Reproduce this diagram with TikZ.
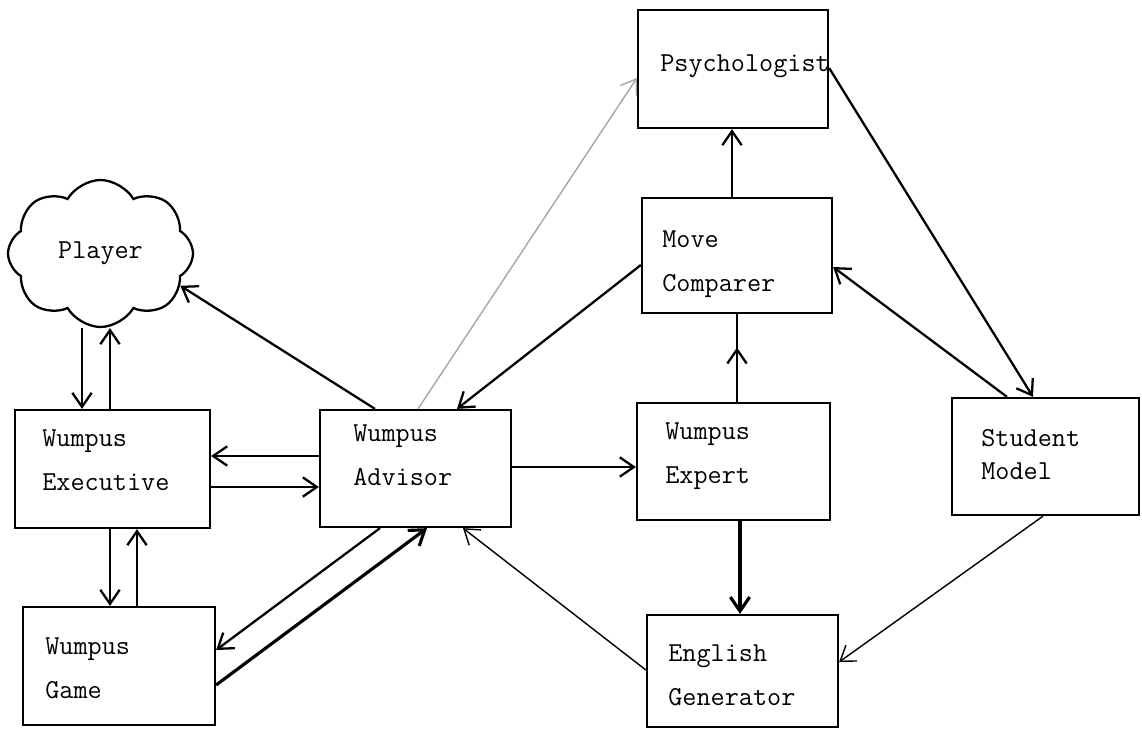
\documentclass[tikz,border=0pt]{standalone}
\usepackage{fontspec}
\usetikzlibrary{arrows.meta, shapes.symbols, decorations.markings}

\tikzset{
	modulo/.style={draw, rectangle, line width=1.3pt, inner sep=0pt},
	testo/.style={anchor=north west, inner sep=0pt, align=left, font=\fontsize{15.6}{25}\selectfont\ttfamily},
	freccia/.style={line width=1.3pt, ->},
	sottile/.style={line width=0.8pt, ->},
	freccia a meta/.style={line width=1.3pt, postaction={decorate},
		decoration={markings, mark=at position 0.62 with {\arrow{>}}}}
}

\begin{document}
\begin{tikzpicture}[x=0.02cm, y=-0.02cm, >={Straight Barb[length=8pt, width=11pt]}]
	\useasboundingbox (0,0) rectangle (1142,730);
	%%%	Moduli
	% Giocatore
	\node[draw, cloud, cloud puffs=8, cloud puff arc=120, line width=1.3pt, minimum width=3.7cm, minimum height=2.94cm, inner sep=0pt, font=\fontsize{15.6}{25}\selectfont\ttfamily] (player) at (100.5,253.5) {Player};
	
	% Colonna sinistra
	\node[modulo, minimum width=3.9cm, minimum height=2.36cm] (exe) at (112.5,469) {};
	\node[testo] (exet) at (42,429) {Wumpus\\Executive};
	\node[modulo, minimum width=3.84cm, minimum height=2.36cm] (game) at (119,666) {};
	\node[testo] (gamet) at (45,637) {Wumpus\\Game};
	
	% Consigliere
	\node[modulo, minimum width=3.82cm, minimum height=2.34cm] (adv) at (415.5,468.5) {};
	\node[testo] (advt) at (353,424) {Wumpus\\Advisor};
	
	% Colonna centrale
	\node[modulo, minimum width=3.8cm, minimum height=2.36cm] (psy) at (733,69) {};
	\node[testo] (psyt) at (660,54) {Psychologist};
	\node[modulo, minimum width=3.8cm, minimum height=2.3cm] (cmp) at (737,255.5) {};
	\node[testo] (cmpt) at (662,230) {Move\\Comparer};
	\node[modulo, minimum width=3.86cm, minimum height=2.34cm] (exp) at (733.5,461.5) {};
	\node[testo] (expt) at (665,422) {Wumpus\\Expert};
	\node[modulo, minimum width=3.82cm, minimum height=2.24cm] (eng) at (742.5,671) {};
	\node[testo] (engt) at (668,644) {English\\Generator};
	
	% Modello dello studente
	\node[modulo, minimum width=3.74cm, minimum height=2.34cm] (stu) at (1045.5,456.5) {};
	\node[testo] (stut) at (981,429) {Student\\[-6pt]Model};
	
	%%%	Frecce
	\draw[freccia] (player.south -| 82,0) -- (exe.north -| 82,0);
	\draw[freccia] (exe.north -| 110,0) -- (player.south -| 110,0);
	\draw[freccia] (adv.north -| 375,0) -- (player.-22);
	\draw[freccia] (adv.west |- 0,456) -- (exe.east |- 0,456);
	\draw[freccia] (exe.east |- 0,487) -- (adv.west |- 0,487);
	\draw[freccia] (exe.south -| 110,0) -- (game.north -| 110,0);
	\draw[freccia] (game.north -| 137,0) -- (exe.south -| 137,0);
	\draw[freccia] (adv.south -| 380,0) -- (game.east |- 0,650);
	\draw[line width=1.8pt, ->] (game.east |- 0,685) -- (adv.south -| 427,0);
	\draw[freccia] (adv.east |- 0,467) -- (exp.west |- 0,467);
	\draw[freccia] (cmp.west |- 0,265) -- (adv.north -| 457,0);
	\draw[sottile, gray!70] (adv.north -| 418,0) -- (psy.west |- 0,78);
	\draw[freccia a meta] (exp.north -| 737,0) -- (cmp.south -| 737,0);
	\draw[freccia] (cmp.north -| 732,0) -- (psy.south -| 732,0);
	\draw[freccia] (psy.east |- 0,68) -- (stu.north -| 1033,0);
	\draw[freccia] (stu.north -| 1007,0) -- (cmp.east |- 0,267);
	\draw[line width=1.8pt, ->] (exp.south -| 740,0) -- (eng.north -| 740,0);
	\draw[sottile] (eng.west |- 0,670) -- (adv.south -| 463,0);
	\draw[sottile] (stu.south -| 1043,0) -- (eng.east |- 0,662);
	
\end{tikzpicture}
\end{document}
